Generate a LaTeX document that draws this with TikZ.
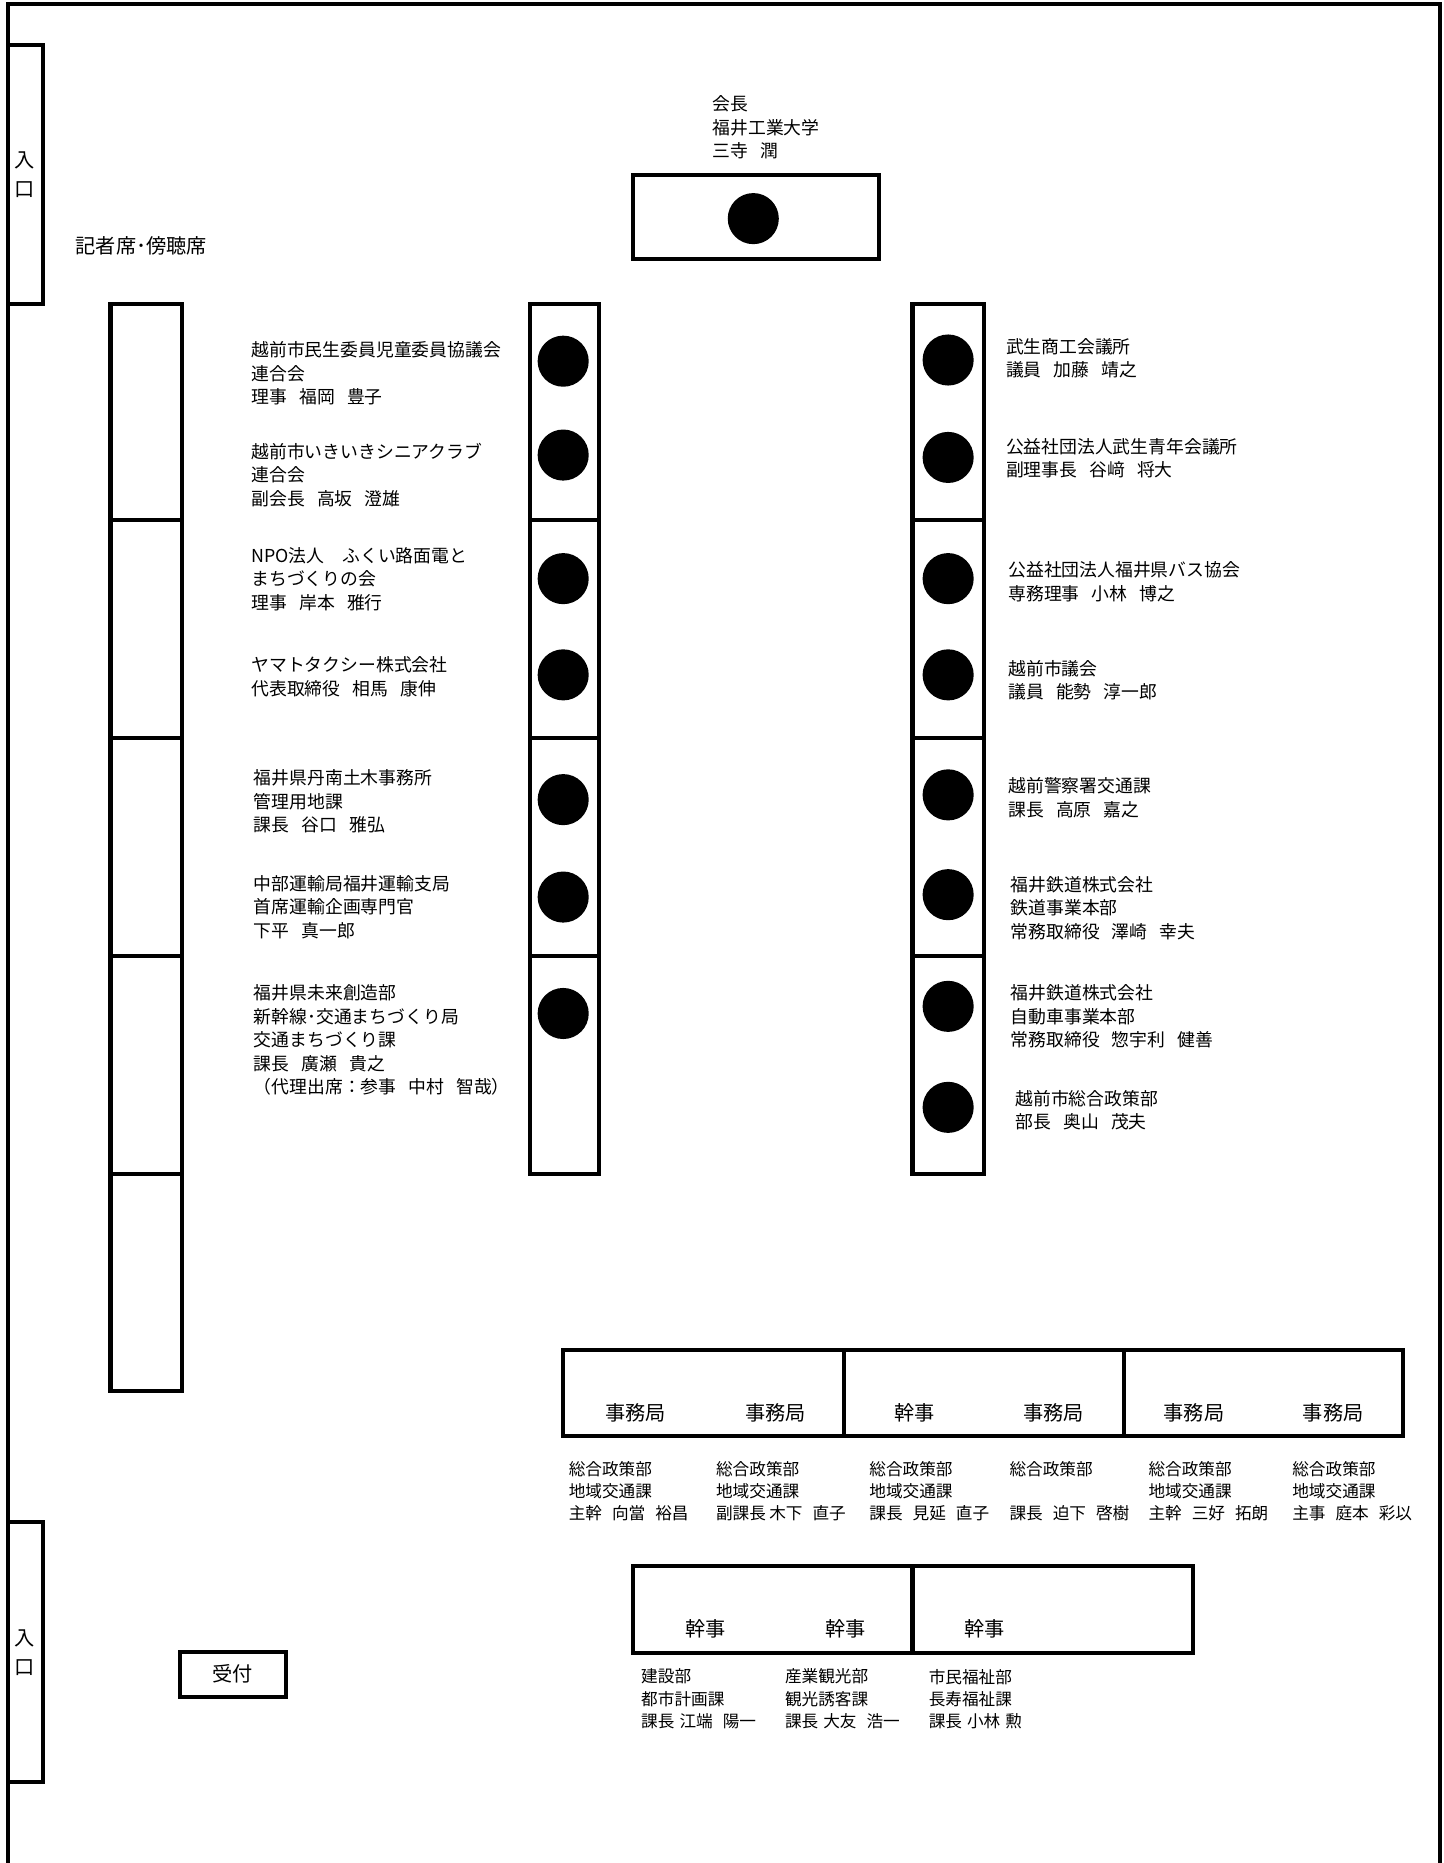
\documentclass[tikz,border=0pt]{standalone}
\usepackage{fontspec}
\setmainfont{Noto Sans CJK JP}
\newcommand{\jgap}{\hspace{0.68em}}
\newcommand{\sgap}{\hspace{0.6em}}
\begin{document}
\begin{tikzpicture}[x=1pt,y=-1pt,line width=3.4pt]
  \tikzstyle{seat}=[circle,fill=black,minimum size=43pt,inner sep=0pt]
  \tikzstyle{member}=[anchor=north west,inner sep=0pt,align=left,font=\fontsize{15}{19.8}\selectfont]
  \tikzstyle{staff}=[anchor=north west,inner sep=0pt,align=left,font=\fontsize{14}{18.6}\selectfont]
  \tikzstyle{role}=[inner sep=0pt,font=\fontsize{17}{24}\selectfont]
  \useasboundingbox (0,0) rectangle (1215,1568);
  % room
  \draw (7,1568) -- (7,3) -- (1212,3) -- (1212,1568);
  \draw[fill=white] (7,38) rectangle (36,256);
  \draw[fill=white] (7,1281) rectangle (36,1500);
  \node[role,align=center] (door1) at (21,147) {入\\口};
  \node[role,align=center] (door2) at (21,1391) {入\\口};
  \node[role] (press) at (119,207) {記者席･傍聴席};
  % chairman
  \node[member] (chair) at (598,79) {会長\\福井工業大学\\三寺\jgap 潤};
  \draw (533,147) rectangle (740,218);
  \node [seat] (c0) at (634,184) {};
  % press tables
  \draw (93,256) rectangle (153,1171);
  \foreach \y in {438,621,805,988} \draw (93,\y) -- (153,\y);
  % left tables
  \draw (446,256) rectangle (504,988);
  \foreach \y in {438,621,805} \draw (446,\y) -- (504,\y);
  \foreach \y [count=\i] in {304,383,487,568,673,755,853}
    \node [seat] (l\i) at (474,\y) {};
  \node[member] (m1) at (210,286) {越前市民生委員児童委員協議会\\連合会\\理事\jgap 福岡\jgap 豊子};
  \node[member] (m2) at (210,371) {越前市いきいきシニアクラブ\\連合会\\副会長\jgap 高坂\jgap 澄雄};
  \node[member] (m3) at (210,459) {NPO法人\hspace{1em}ふくい路面電と\\まちづくりの会\\理事\jgap 岸本\jgap 雅行};
  \node[member] (m4) at (210,551) {ヤマトタクシー株式会社\\代表取締役\jgap 相馬\jgap 康伸};
  \node[member] (m5) at (212,646) {福井県丹南土木事務所\\管理用地課\\課長\jgap 谷口\jgap 雅弘};
  \node[member] (m6) at (212,735) {中部運輸局福井運輸支局\\首席運輸企画専門官\\下平\jgap 真一郎};
  \node[member] (m7) at (212,827) {福井県未来創造部\\新幹線･交通まちづくり局\\交通まちづくり課\\課長\jgap 廣瀬\jgap 貴之\\（代理出席：参事\jgap 中村\jgap 智哉）};
  % right tables
  \draw (768,256) rectangle (828,988);
  \foreach \y in {438,621,805} \draw (768,\y) -- (828,\y);
  \foreach \y [count=\i] in {303,385,487,568,669,753,847,932}
    \node [seat] (r\i) at (798,\y) {};
  \node[member] (n1) at (845,283) {武生商工会議所\\議員\jgap 加藤\jgap 靖之};
  \node[member] (n2) at (845,367) {公益社団法人武生青年会議所\\副理事長\jgap 谷﨑\jgap 将大};
  \node[member] (n3) at (847,471) {公益社団法人福井県バス協会\\専務理事\jgap 小林\jgap 博之};
  \node[member] (n4) at (847,554) {越前市議会\\議員\jgap 能勢\jgap 淳一郎};
  \node[member] (n5) at (847,653) {越前警察署交通課\\課長\jgap 高原\jgap 嘉之};
  \node[member] (n6) at (849,736) {福井鉄道株式会社\\鉄道事業本部\\常務取締役\jgap 澤崎\jgap 幸夫};
  \node[member] (n7) at (849,827) {福井鉄道株式会社\\自動車事業本部\\常務取締役\jgap 惣宇利\jgap 健善};
  \node[member] (n8) at (853,916) {越前市総合政策部\\部長\jgap 奥山\jgap 茂夫};
  % secretariat
  \draw (474,1136) rectangle (1181,1209);
  \draw (710,1136) -- (710,1209);
  \draw (946,1136) -- (946,1209);
  \foreach \x/\t [count=\i] in {535/事務局,653/事務局,770/幹事,887/事務局,1005/事務局,1122/事務局}
    \node[role] (k\i) at (\x,1189) {\t};
  \node[staff] (s1) at (477,1228) {総合政策部\\地域交通課\\主幹\sgap 向當\sgap 裕昌};
  \node[staff] (s2) at (601,1228) {総合政策部\\地域交通課\\副課長\hspace{0.2em}木下\sgap 直子};
  \node[staff] (s3) at (730,1228) {総合政策部\\地域交通課\\課長\sgap 見延\sgap 直子};
  \node[staff] (s4) at (848,1228) {総合政策部\\[18.6pt]課長\sgap 迫下\sgap 啓樹};
  \node[staff] (s5) at (965,1228) {総合政策部\\地域交通課\\主幹\sgap 三好\sgap 拓朗};
  \node[staff] (s6) at (1086,1228) {総合政策部\\地域交通課\\主事\sgap 庭本\sgap 彩以};
  % managers
  \draw (533,1318) rectangle (1004,1391);
  \draw (768,1318) -- (768,1391);
  \foreach \x [count=\i] in {594,712,829}
    \node[role] (j\i) at (\x,1371) {幹事};
  \node[staff] (t1) at (538,1403) {建設部\\都市計画課\\課長\hspace{0.3em}江端\sgap 陽一};
  \node[staff] (t2) at (659,1403) {産業観光部\\観光誘客課\\課長\hspace{0.3em}大友\sgap 浩一};
  \node[staff] (t3) at (780,1403) {市民福祉部\\長寿福祉課\\課長\hspace{0.3em}小林\hspace{0.3em}勲};
  % reception
  \node[role,draw,minimum width=89pt,minimum height=38pt] (desk) at (196,1409) {受付};
\end{tikzpicture}
\end{document}
